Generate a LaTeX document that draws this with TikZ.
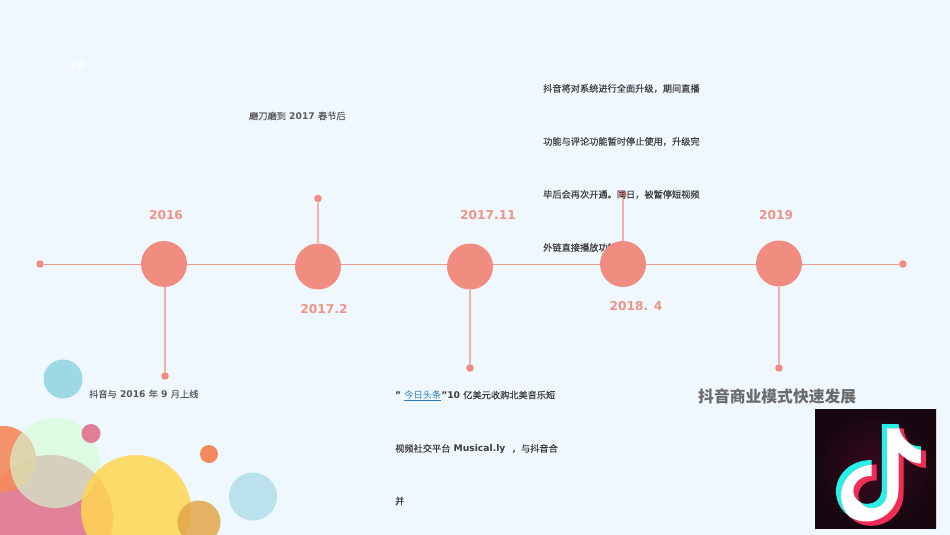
\documentclass[tikz,border=0pt]{standalone}
\usepackage{fontspec}
\setmainfont{DejaVu Sans}
\newfontfamily\cjk{Noto Sans CJK SC}
\newfontfamily\cjkm{Noto Sans CJK SC}[UprightFeatures={FakeBold=0.3}]
\usetikzlibrary{calc}
\pgfdeclarelayer{under}
\pgfsetlayers{under,main}
\definecolor{bgc}{HTML}{F0F8FF}
\definecolor{sal}{HTML}{F08C80}
\definecolor{axisc}{HTML}{F09A90}
\definecolor{stemc}{HTML}{F2B0A9}
\definecolor{salt}{HTML}{EE9388}
\definecolor{gtxt}{HTML}{5A5A5A}
\definecolor{dtxt}{HTML}{3C3C3C}
\definecolor{lnk}{HTML}{2B7BB9}
\definecolor{orgA}{HTML}{F58A5E}
\definecolor{pinkA}{HTML}{E2829A}
\definecolor{greenA}{HTML}{D2FDD3}
\definecolor{yelA}{HTML}{FFD650}
\definecolor{goldA}{HTML}{E4A648}
\definecolor{blueA}{HTML}{9DD8E6}
\definecolor{pinkB}{HTML}{E07E96}
\definecolor{orgB}{HTML}{F38A5C}
\definecolor{blueB}{HTML}{BBE1EC}
\definecolor{logoBg}{HTML}{160710}
\definecolor{logoGl}{HTML}{3A0A20}
\definecolor{logoC}{HTML}{28F0EB}
\definecolor{logoR}{HTML}{F02D55}
\newcommand{\cj}[1]{{\cjkm\mdseries #1}}
\newcommand{\logonote}{(252.5,78.5) -- (302.5,78.5) .. controls (306,115) and (330,146) .. (370,146) -- (370,197) .. controls (345,197) and (320,182) .. (302.5,162) -- (302.5,275) .. controls (302.5,330) and (258,371) .. (205,371) .. controls (155,371) and (115,330) .. (115,280) .. controls (115,230) and (160,185) .. (222,187) -- (222,235) .. controls (190,232) and (167,255) .. (167,280) .. controls (167,302) and (185,318) .. (207,318) .. controls (235,318) and (252.5,300) .. (252.5,272) -- cycle}
\tikzset{
  x=1pt,y=-1pt,
  bigdot/.style={circle,fill=sal,draw=none,minimum size=46pt,inner sep=0pt},
  enddot/.style={circle,fill=sal,draw=none,minimum size=7.6pt,inner sep=0pt},
  stem/.style={color=stemc,line width=1.1pt},
  axis/.style={color=axisc,line width=0.9pt},
  year/.style={font=\bfseries\fontsize{12.2}{14}\selectfont,text=salt,inner sep=0pt},
  body/.style={font=\bfseries\fontsize{9.2}{11}\selectfont,anchor=west,inner sep=0pt},
}
\begin{document}
\begin{tikzpicture}
\useasboundingbox (0,0) rectangle (950,535);
\begin{pgfonlayer}{under}
\fill[bgc] (0,0) rectangle (950,535);
\begin{scope}
\clip (0,0) rectangle (950,535);
\fill[pinkA] (50,518) circle[radius=63];
\fill[orgA,fill opacity=0.92] (3,459) circle[radius=33];
\fill[greenA,fill opacity=0.63] (55,463) circle[radius=45];
\fill[yelA,fill opacity=0.85] (136,510) circle[radius=55];
\fill[goldA,fill opacity=0.85] (199,522) circle[radius=21.5];
\fill[blueA] (63,379) circle[radius=19.5];
\fill[pinkB] (91,433.5) circle[radius=9.5];
\fill[orgB] (209,454) circle[radius=9];
\fill[blueB] (253,496.5) circle[radius=24];
\end{scope}
\shade[inner color=logoGl,outer color=logoBg] (815,409) rectangle (936,528);
\begin{scope}[shift={(800,400)},x=0.3333pt,y=-0.3333pt]
\fill[logoC,shift={(-7,-6.5)}] \logonote;
\fill[logoR,shift={(8,6.5)}] \logonote;
\begin{scope}
\clip[shift={(-7,-6.5)}] \logonote;
\fill[white,shift={(8,6.5)}] \logonote;
\end{scope}
\end{scope}
\end{pgfonlayer}

\node[enddot] (L) at (40,264) {};
\node[enddot] (R) at (903,264) {};
\node[enddot] (d1) at (165,376) {};
\node[enddot] (d2) at (318,198.5) {};
\node[enddot] (d3) at (470,368) {};
\node[enddot] (d4) at (623,194.5) {};
\node[enddot] (d5) at (779,368) {};

\node[year] (y1) at (166,215) {2016};
\node[year] (y2) at (324,309) {2017.2};
\node[year] (y3) at (488,215) {2017.11};
\node[year] (y4) at (636,306) {2018. 4};
\node[year] (y5) at (776,215) {2019};

\node[font=\fontsize{9}{10}\selectfont,text=white,inner sep=0pt] (t0) at (76,64.5) {\cj{抖音}};
\node[body,text=gtxt] (t1) at (89,394) {\cj{抖音与} 2016 \cj{年} 9 \cj{月上线}};
\node[body,text=gtxt] (t2) at (249,116) {\cj{磨刀磨到} 2017 \cj{春节后}};
\node[body,text=dtxt] (a1) at (543,88.5) {\cj{抖音将对系统进行全面升级，期间直播}};
\node[body,text=dtxt] (a2) at (543,141.5) {\cj{功能与评论功能暂时停止使用，升级完}};
\node[body,text=dtxt] (a3) at (543,194.5) {\cj{毕后会再次开通。同日，被暂停短视频}};
\node[body,text=dtxt] (a4) at (543,247.5) {\cj{外链直接播放功能}};
\node[body,text=dtxt] (b1) at (395,396) {" {\color{lnk}\underline{\cjk\mdseries 今日头条}}"10 \cj{亿美元收购北美音乐短}};
\node[body,text=dtxt] (b2) at (395,449) {\cj{视频社交平台} Musical.ly \ \cj{，与抖音合}};
\node[body,text=dtxt] (b3) at (395,501) {\cj{并}};
\node[font=\bfseries\fontsize{15.8}{18}\selectfont,text=gtxt!90!white,anchor=west,inner sep=0pt] (h) at (698,396) {{\cjk\bfseries 抖音商业模式快速发展}};

\node[bigdot] (c1) at (164,264) {};
\node[bigdot] (c2) at (318,266.5) {};
\node[bigdot] (c3) at (470,266.5) {};
\node[bigdot] (c4) at (623,264) {};
\node[bigdot] (c5) at (779,263.5) {};

\begin{pgfonlayer}{under}
\draw[axis] (L) -- (R);
\draw[stem] (d1) -- (d1 |- c1);
\draw[stem] (d2) -- (c2);
\draw[stem] (d3) -- (c3);
\draw[stem] (d4) -- (c4);
\draw[stem] (d5) -- (c5);
\end{pgfonlayer}
\end{tikzpicture}
\end{document}
